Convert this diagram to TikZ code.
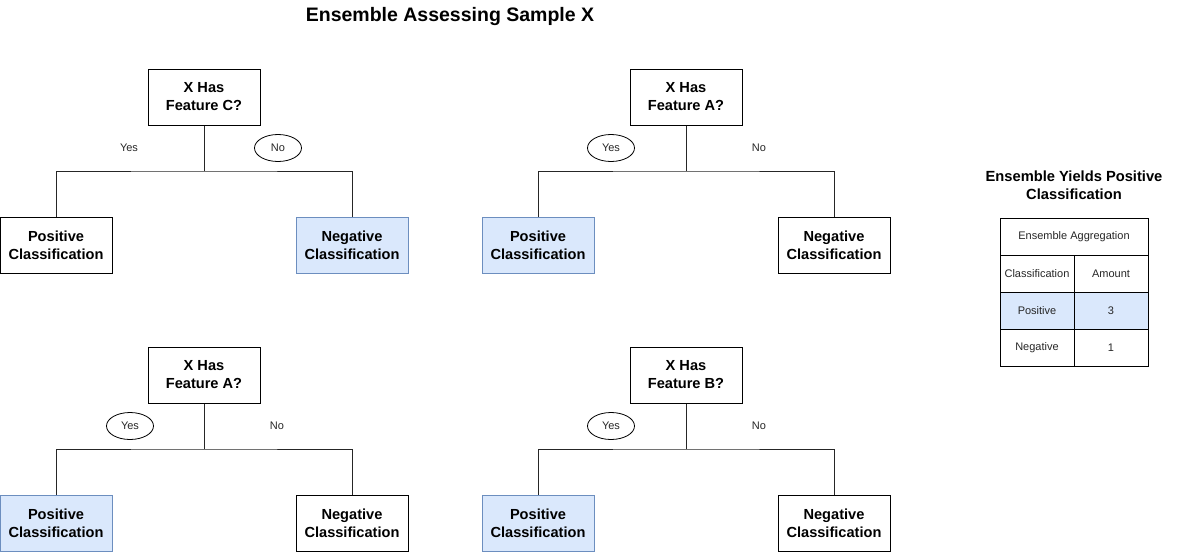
\documentclass[tikz,border=0pt]{standalone}
\usepackage{fontspec}
\setmainfont{Liberation Sans}
\usetikzlibrary{shapes.geometric}
\definecolor{bluefill}{HTML}{DAE8FC}
\definecolor{bluedraw}{HTML}{6C8EBF}
\tikzset{
  box/.style={draw=black, line width=1pt, minimum width=112pt, minimum height=56pt, inner sep=0pt, align=center, font=\fontsize{14.6}{18}\selectfont\bfseries},
  hl/.style={fill=bluefill, draw=bluedraw},
  lbl/.style={font=\fontsize{11}{13}\selectfont, text=black!85, inner sep=0pt},
  oval/.style={ellipse, draw=black, line width=0.8pt, minimum width=47pt, minimum height=27pt, inner sep=0pt, font=\fontsize{11}{13}\selectfont, text=black!85},
  edge/.style={draw=black!85, line width=1pt},
  cell/.style={draw=black, line width=1pt, inner sep=0pt, font=\fontsize{11}{13}\selectfont, text=black!85, align=center},
}
\begin{document}
\begin{tikzpicture}[x=1pt,y=-1pt]
\useasboundingbox (0,0) rectangle (1200,552);
\node[font=\fontsize{19.5}{22}\selectfont\bfseries] (title) at (450,16) {Ensemble Assessing Sample X};

% Tree 1
\node[box] (r1) at (204,97) {X Has\\Feature C?};
\node[box] (p1) at (56,245.5) {Positive\\Classification};
\node[box,hl] (n1) at (352,245.5) {Negative\\Classification};
\coordinate (j1) at (204,171);
\draw[edge] (r1.south) -- (j1);
\draw[edge] (p1.north) |- (j1) -| (n1.north);
\node[lbl] (y1) at (129,148) {Yes};
\node[oval] (o1) at (278,148) {No};

% Tree 2
\node[box] (r2) at (686,97) {X Has\\Feature A?};
\node[box,hl] (p2) at (538,245.5) {Positive\\Classification};
\node[box] (n2) at (834,245.5) {Negative\\Classification};
\coordinate (j2) at (686,171);
\draw[edge] (r2.south) -- (j2);
\draw[edge] (p2.north) |- (j2) -| (n2.north);
\node[oval] (y2) at (611,148) {Yes};
\node[lbl] (o2) at (759,148) {No};

% Tree 3
\node[box] (r3) at (204,375) {X Has\\Feature A?};
\node[box,hl] (p3) at (56,523.5) {Positive\\Classification};
\node[box] (n3) at (352,523.5) {Negative\\Classification};
\coordinate (j3) at (204,449);
\draw[edge] (r3.south) -- (j3);
\draw[edge] (p3.north) |- (j3) -| (n3.north);
\node[oval] (y3) at (130,426) {Yes};
\node[lbl] (o3) at (277,426) {No};

% Tree 4
\node[box] (r4) at (686,375) {X Has\\Feature B?};
\node[box,hl] (p4) at (538,523.5) {Positive\\Classification};
\node[box] (n4) at (834,523.5) {Negative\\Classification};
\coordinate (j4) at (686,449);
\draw[edge] (r4.south) -- (j4);
\draw[edge] (p4.north) |- (j4) -| (n4.north);
\node[oval] (y4) at (611,426) {Yes};
\node[lbl] (o4) at (759,426) {No};

% Result
\node[align=center, font=\fontsize{14.7}{18}\selectfont\bfseries] (res) at (1074,185) {Ensemble Yields Positive\\Classification};
\node[cell, minimum width=148pt, minimum height=37pt] (hd) at (1074,236.5) {Ensemble Aggregation};
\node[cell, minimum width=74pt, minimum height=37pt] (c1) at (1037,273.5) {Classification};
\node[cell, minimum width=74pt, minimum height=37pt] (c2) at (1111,273.5) {Amount};
\node[cell, fill=bluefill, minimum width=74pt, minimum height=37pt] (c3) at (1037,310.5) {Positive};
\node[cell, fill=bluefill, minimum width=74pt, minimum height=37pt] (c4) at (1111,310.5) {3};
\node[cell, minimum width=74pt, minimum height=37pt] (c5) at (1037,347.5) {Negative};
\node[cell, minimum width=74pt, minimum height=37pt] (c6) at (1111,347.5) {1};
\end{tikzpicture}
\end{document}
